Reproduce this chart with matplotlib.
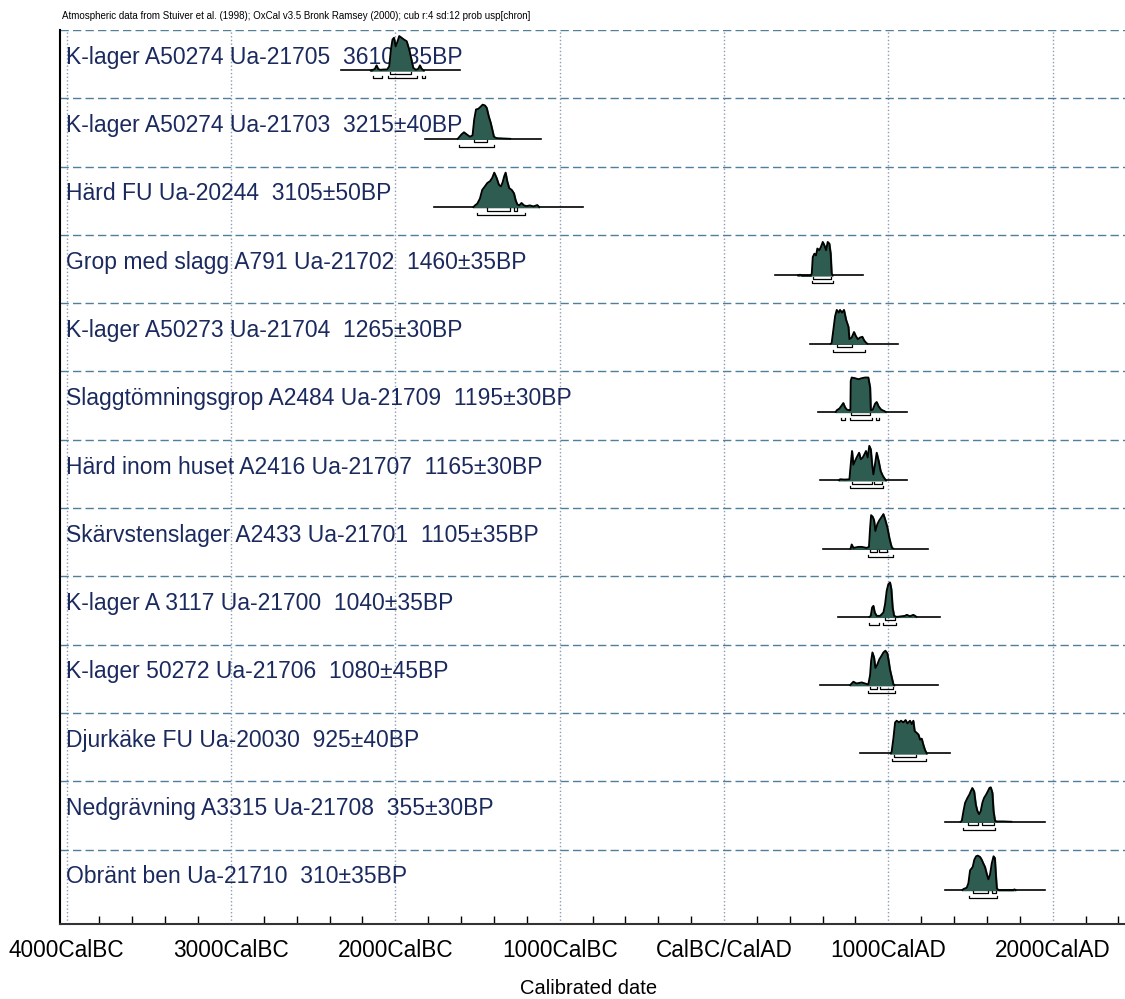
# OxCal multiplot: calibrated radiocarbon dates
import matplotlib.pyplot as plt

plt.rcParams['font.family'] = ['Liberation Sans', 'DejaVu Sans']

labels = [
    "K-lager A50274 Ua-21705  3610±35BP",
    "K-lager A50274 Ua-21703  3215±40BP",
    "Härd FU Ua-20244  3105±50BP",
    "Grop med slagg A791 Ua-21702  1460±35BP",
    "K-lager A50273 Ua-21704  1265±30BP",
    "Slaggtömningsgrop A2484 Ua-21709  1195±30BP",
    "Härd inom huset A2416 Ua-21707  1165±30BP",
    "Skärvstenslager A2433 Ua-21701  1105±35BP",
    "K-lager A 3117 Ua-21700  1040±35BP",
    "K-lager 50272 Ua-21706  1080±45BP",
    "Djurkäke FU Ua-20030  925±40BP",
    "Nedgrävning A3315 Ua-21708  355±30BP",
    "Obränt ben Ua-21710  310±35BP",
]

# probability curves (calendar year, relative height)
ua21705_yr = [-2150, -2125, -2114, -2104, -2090, -2070, -2050, -2037, -2027, -2017, -2008, -1998, -1986,
              -1976, -1962, -1948, -1931, -1915, -1901, -1891, -1875, -1860, -1850, -1840, -1826]
ua21705_p = [0, 0.04, 0.15, 0.04, 0.02, 0.03, 0.03, 0.12, 0.6, 0.9, 0.95, 0.7, 0.85,
             1.0, 0.95, 0.9, 0.85, 0.6, 0.3, 0.08, 0.02, 0.05, 0.15, 0.05, 0]
ua21703_yr = [-1620, -1597, -1582, -1566, -1546, -1530, -1520, -1509, -1495, -1481, -1469, -1455, -1444,
              -1432, -1420, -1410, -1400, -1384, -1343, -1300]
ua21703_p = [0, 0.13, 0.19, 0.13, 0.06, 0.1, 0.56, 0.85, 0.87, 0.93, 0.99, 0.97, 0.9,
             0.66, 0.47, 0.27, 0.06, 0.02, 0.01, 0]
ua20244_yr = [-1525, -1515, -1501, -1485, -1471, -1455, -1440, -1424, -1410, -1398, -1384, -1370, -1357,
              -1347, -1337, -1329, -1319, -1307, -1292, -1278, -1268, -1258, -1246, -1232, -1217,
              -1201, -1181, -1160, -1136, -1124]
ua20244_p = [0, 0.05, 0.1, 0.25, 0.5, 0.6, 0.7, 0.75, 0.85, 1.0, 0.85, 0.65, 0.6,
             0.72, 0.9, 1.0, 0.75, 0.55, 0.5, 0.4, 0.2, 0.08, 0.05, 0.12, 0.05,
             0.03, 0.05, 0.02, 0.06, 0]
ua21702_yr = [450, 462, 475, 528, 534, 540, 550, 560, 568, 580, 590, 601, 611, 621, 631, 641, 649, 655, 661]
ua21702_p = [0, 0.02, 0, 0, 0.05, 0.53, 0.63, 0.58, 0.78, 0.73, 0.83, 0.97, 0.87, 0.73, 0.97, 0.92, 0.63, 0.05, 0]
ua21704_yr = [650, 655, 665, 676, 686, 698, 706, 718, 730, 743, 757, 763, 777, 791, 801, 814, 828, 842,
              852, 864, 872]
ua21704_p = [0, 0.02, 0.39, 0.8, 0.98, 0.9, 0.98, 0.9, 0.98, 0.69, 0.49, 0.13, 0.18, 0.34, 0.23, 0.13,
             0.18, 0.2, 0.1, 0.03, 0]
ua21709_yr = [680, 686, 702, 716, 726, 736, 747, 763, 769, 771, 777, 797, 818, 838, 858, 878, 889, 893,
              905, 919, 929, 941, 956, 974, 986]
ua21709_p = [0, 0.05, 0.1, 0.19, 0.26, 0.14, 0.07, 0.05, 0.05, 0.9, 1.0, 0.98, 0.95, 0.98, 1.0, 1.0,
             0.71, 0.05, 0.07, 0.24, 0.29, 0.16, 0.07, 0.03, 0]
ua21707_yr = [700, 706, 736, 763, 773, 779, 787, 797, 807, 822, 832, 844, 854, 864, 874, 884, 893, 901,
              909, 919, 929, 941, 953, 966, 980, 986]
ua21707_p = [0, 0.03, 0.02, 0.03, 0.56, 0.85, 0.45, 0.56, 0.66, 0.8, 0.61, 0.66, 0.75, 0.85, 0.66, 1.0,
             0.9, 0.47, 0.17, 0.47, 0.8, 0.56, 0.27, 0.13, 0.03, 0]
ua21701_yr = [770, 777, 787, 818, 838, 868, 882, 889, 895, 905, 913, 921, 933, 945, 959, 970, 982, 994,
              1006, 1014, 1022, 1031]
ua21701_p = [0, 0.12, 0.02, 0.05, 0.05, 0.02, 0.05, 0.61, 0.97, 0.92, 0.82, 0.51, 0.71, 0.82, 0.92, 1.0,
             0.82, 0.61, 0.31, 0.15, 0.02, 0]
ua21700_yr = [885, 893, 901, 909, 917, 929, 950, 970, 980, 990, 1000, 1010, 1018, 1026, 1035, 1051,
              1101, 1112, 1132, 1152, 1162, 1172]
ua21700_p = [0, 0.03, 0.27, 0.32, 0.13, 0.03, 0.03, 0.13, 0.37, 0.76, 0.95, 1.0, 0.81, 0.27, 0.03, 0,
             0.03, 0.06, 0.02, 0.06, 0.03, 0]
ua21706_yr = [767, 777, 787, 807, 838, 878, 889, 895, 903, 913, 921, 933, 945, 958, 970, 982, 994, 1002,
              1010, 1022, 1031, 1037]
ua21706_p = [0, 0.05, 0.1, 0.05, 0.08, 0.02, 0.3, 0.7, 0.95, 0.8, 0.5, 0.6, 0.75, 0.85, 0.95, 1.0, 0.92,
             0.7, 0.45, 0.2, 0.02, 0]
ua20030_yr = [1014, 1020, 1031, 1041, 1051, 1065, 1077, 1091, 1105, 1116, 1132, 1142, 1152, 1160, 1172,
              1183, 1193, 1203, 1213, 1223, 1234]
ua20030_p = [0, 0.05, 0.45, 0.9, 0.95, 0.9, 0.95, 0.9, 0.97, 0.87, 0.95, 0.85, 0.95, 0.65, 0.6,
             0.55, 0.4, 0.43, 0.25, 0.1, 0]
ua21708_yr = [1440, 1447, 1457, 1467, 1481, 1493, 1501, 1511, 1522, 1532, 1542, 1552, 1562, 1572, 1582,
              1595, 1605, 1615, 1623, 1633, 1640, 1649, 1660, 1700, 1750]
ua21708_p = [0, 0.03, 0.31, 0.55, 0.69, 0.79, 0.88, 0.98, 0.88, 0.5, 0.31, 0.22, 0.31, 0.55, 0.69,
             0.79, 0.88, 0.98, 1.0, 0.84, 0.31, 0.03, 0.01, 0.01, 0]
ua21710_yr = [1450, 1457, 1477, 1487, 1497, 1513, 1523, 1534, 1544, 1558, 1568, 1578, 1588, 1599, 1609,
              1619, 1629, 1640, 1648, 1654, 1660, 1670, 1760, 1767, 1775]
ua21710_p = [0, 0.03, 0.07, 0.2, 0.57, 0.67, 0.88, 0.98, 1.0, 0.96, 0.88, 0.77, 0.67, 0.46, 0.31,
             0.46, 0.77, 0.98, 0.93, 0.46, 0.05, 0, 0, 0.02, 0]

# extent of the flat line under each curve
line_from = [-2330, -1820, -1765, 310, 523, 574, 584, 604, 696, 584, 828, 1345, 1345]
line_to = [-1607, -1116, -857, 848, 1061, 1112, 1112, 1244, 1315, 1305, 1375, 1954, 1954]

# 68.2% and 95.4% ranges
sigma1 = [[(-2033, -1905)], [(-1518, -1444)], [(-1444, -1303), (-1276, -1258)], [(544, 649)],
          [(690, 777)], [(771, 889)], [(777, 901), (915, 960)], [(889, 933), (945, 994)],
          [(980, 1040)], [(889, 933), (950, 1026)], [(1035, 1168)], [(1487, 1548), (1572, 1640)],
          [(1518, 1609), (1629, 1654)]]
sigma2 = [[(-2134, -2078), (-2043, -1867), (-1840, -1820)], [(-1611, -1400)], [(-1505, -1211)],
          [(534, 661)], [(661, 858)], [(712, 736), (767, 899), (925, 945)], [(767, 970)],
          [(878, 1031)], [(885, 945), (970, 1047)], [(878, 1041)], [(1020, 1229)], [(1457, 1649)],
          [(1493, 1660)]]

curve_years = [ua21705_yr, ua21703_yr, ua20244_yr, ua21702_yr, ua21704_yr, ua21709_yr, ua21707_yr,
               ua21701_yr, ua21700_yr, ua21706_yr, ua20030_yr, ua21708_yr, ua21710_yr]
curve_prob = [ua21705_p, ua21703_p, ua20244_p, ua21702_p, ua21704_p, ua21709_p, ua21707_p,
              ua21701_p, ua21700_p, ua21706_p, ua20030_p, ua21708_p, ua21710_p]

tick_years = [-4000, -3000, -2000, -1000, 0, 1000, 2000]
tick_labels = ["4000CalBC", "3000CalBC", "2000CalBC", "1000CalBC", "CalBC/CalAD", "1000CalAD", "2000CalAD"]

fig = plt.figure(figsize=(11.25, 9.99), dpi=100)
ax = fig.add_axes([60 / 1125, 75 / 999, 1 - 60 / 1125, 894 / 999])
ax.set_xlim(-4040, 2440)
ax.set_ylim(13.09, 0)

# grid
for g in tick_years:
    ax.axvline(g, color="#8c9bb0", ls=":", lw=1, zorder=1)
for r in range(13):
    ax.axhline(r, color="#4f7f9a", ls=(0, (6, 3)), lw=1, zorder=1)

for i in range(13):
    base = i + 0.593
    ax.text(0.006, i + 0.40, labels[i], transform=ax.get_yaxis_transform(),
            fontsize=16.5, color="#1b2a5e", va="center", ha="left", zorder=2)
    ax.plot([line_from[i], line_to[i]], [base, base], color="black", lw=1.2, zorder=3)
    top = [base - p * 0.505 for p in curve_prob[i]]
    ax.fill_between(curve_years[i], base, top, color="#2f5c50", zorder=4)
    ax.plot(curve_years[i], top, color="black", lw=1.3, zorder=5)
    for a, b in sigma1[i]:
        y = base + 0.05
        ax.plot([a, a, b, b], [y - 0.03, y, y, y - 0.03], color="black", lw=0.9, zorder=5)
    for a, b in sigma2[i]:
        y = base + 0.117
        ax.plot([a, a, b, b], [y - 0.03, y, y, y - 0.03], color="black", lw=0.9, zorder=5)

ax.set_xticks(tick_years)
ax.set_xticklabels(tick_labels, fontsize=16.3)
ax.set_xticks([y for y in range(-3800, 2441, 200) if y % 1000 != 0], minor=True)
ax.tick_params(axis="x", which="major", length=0, pad=11)
ax.tick_params(axis="x", which="minor", direction="in", length=6, width=1, color="black")
ax.set_yticks([])
ax.spines["top"].set_visible(False)
ax.spines["right"].set_visible(False)
ax.spines["left"].set_linewidth(1.5)
ax.spines["bottom"].set_linewidth(1.5)
ax.spines["bottom"].set_color("#333333")

fig.text(589 / 1125, 1 - 988 / 999, "Calibrated date", fontsize=14.5, ha="center", va="center")
fig.text(62 / 1125, 1 - 16 / 999,
         "Atmospheric data from Stuiver et al. (1998); OxCal v3.5 Bronk Ramsey (2000); cub r:4 sd:12 prob usp[chron]",
         fontsize=7, ha="left", va="center")

fig.savefig("out.png", dpi=100)
